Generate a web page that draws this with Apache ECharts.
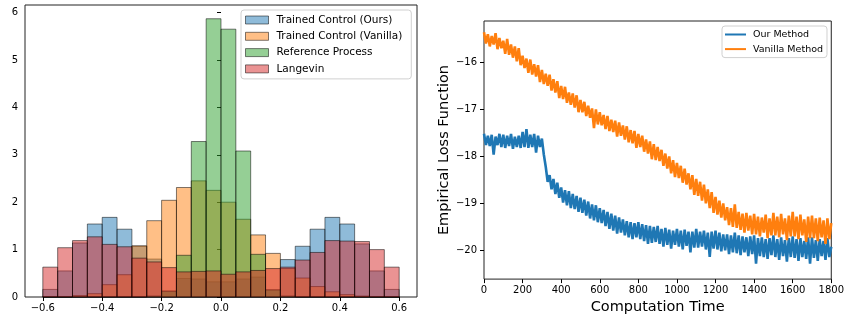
<!DOCTYPE html>
<html>
<head>
<meta charset="utf-8">
<script src="https://cdn.jsdelivr.net/npm/echarts@6/dist/echarts.min.js"></script>
<style>
  html, body { margin: 0; padding: 0; background: #fff; }
  #main { width: 847px; height: 320px; }
</style>
</head>
<body>
<div id="main"></div>
<script>
/*--------------------- histogram data ----------------------------*/
var binEdges = [-0.6, -0.55, -0.5, -0.45, -0.4, -0.35, -0.3, -0.25, -0.2, -0.15, -0.1, -0.05,
    0, 0.05, 0.1, 0.15, 0.2, 0.25, 0.3, 0.35, 0.4, 0.45, 0.5, 0.55, 0.6];
var oursHist = [0.16, 0.55, 1.14, 1.54, 1.68, 1.43, 1.07, 0.8, 0.13, 0.39, 0.38, 0.32,
    0.32, 0.38, 0.42, 0.15, 0.79, 1.07, 1.43, 1.68, 1.54, 1.12, 0.55, 0.16];
var vanillaHist = [0, 0, 0.03, 0.07, 0.26, 0.47, 1.08, 1.61, 2.04, 2.31, 2.45, 2.25,
    2.0, 1.64, 1.31, 0.92, 0.6, 0.4, 0.22, 0.11, 0.05, 0.02, 0, 0];
var referenceHist = [0, 0, 0, 0, 0, 0, 0, 0.02, 0.12, 0.88, 3.28, 5.87,
    5.65, 3.08, 0.9, 0.15, 0.02, 0, 0, 0, 0, 0, 0, 0];
var langevinHist = [0.63, 1.04, 1.19, 1.27, 1.11, 1.06, 0.82, 0.74, 0.62, 0.53, 0.54, 0.55,
    0.48, 0.53, 0.56, 0.6, 0.63, 0.78, 0.94, 1.19, 1.18, 1.17, 1.0, 0.63];
var histNames = ['Trained Control (Ours)', 'Trained Control (Vanilla)', 'Reference Process', 'Langevin'];
var histTicks = [-0.6, -0.4, -0.2, 0, 0.2, 0.4, 0.6];
var densityTicks = [0, 1, 2, 3, 4, 5, 6];

/*--------------------- loss curves (one reading every 10 time units) ----------------------------*/
var timeStep = 10;
var ourLoss = [
    -17.52, -17.76, -17.56, -17.78, -17.54, -17.96, -17.58, -17.76, -17.52, -17.80,
    -17.54, -17.82, -17.56, -17.78, -17.52, -17.84, -17.58, -17.80, -17.56, -17.82,
    -17.48, -17.80, -17.42, -17.82, -17.54, -17.80, -17.52, -17.92, -17.56, -17.80,
    -17.62, -17.96, -18.22, -18.54, -18.40, -18.70, -18.48, -18.80, -18.56, -18.88,
    -18.66, -18.98, -18.72, -19.04, -18.74, -19.10, -18.80, -19.12, -18.84, -19.18,
    -18.88, -19.20, -18.92, -19.26, -18.96, -19.32, -19.02, -19.36, -19.04, -19.40,
    -19.10, -19.42, -19.14, -19.48, -19.18, -19.54, -19.22, -19.58, -19.26, -19.64,
    -19.30, -19.62, -19.34, -19.68, -19.38, -19.72, -19.40, -19.76, -19.42, -19.72,
    -19.40, -19.76, -19.44, -19.80, -19.46, -19.86, -19.48, -19.84, -19.50, -19.82,
    -19.48, -19.86, -19.54, -19.92, -19.52, -19.88, -19.56, -19.96, -19.58, -19.88,
    -19.54, -19.92, -19.58, -19.98, -19.56, -19.90, -19.60, -20.04, -19.60, -19.94,
    -19.54, -19.94, -19.60, -19.92, -19.58, -19.98, -19.62, -20.14, -19.60, -19.96,
    -19.58, -19.98, -19.62, -20.02, -19.66, -20.00, -19.66, -20.08, -19.68, -20.04,
    -19.62, -20.06, -19.68, -20.10, -19.70, -20.04, -19.72, -20.12, -19.70, -20.08,
    -19.68, -20.28, -19.74, -20.12, -19.72, -20.14, -19.76, -20.18, -19.74, -20.10,
    -19.68, -20.14, -19.76, -20.20, -19.72, -20.12, -19.78, -20.24, -19.74, -20.14,
    -19.70, -20.16, -19.76, -20.22, -19.74, -20.14, -19.80, -20.18, -19.72, -20.28,
    -19.72, -20.16, -19.78, -20.22, -19.76, -20.12, -19.80, -20.20, -19.74, -20.14, -19.92
];
var vanillaLoss = [
    -15.36, -15.60, -15.40, -15.66, -15.44, -15.62, -15.38, -15.72, -15.48, -15.70,
    -15.54, -15.82, -15.50, -15.84, -15.62, -15.90, -15.66, -15.98, -15.70, -16.06,
    -15.86, -16.12, -15.92, -16.22, -15.94, -16.26, -16.04, -16.30, -16.06, -16.42,
    -16.16, -16.46, -16.24, -16.50, -16.26, -16.60, -16.36, -16.64, -16.40, -16.76,
    -16.50, -16.78, -16.52, -16.86, -16.64, -16.90, -16.66, -16.96, -16.70, -17.06,
    -16.80, -17.06, -16.84, -17.14, -16.92, -17.18, -16.98, -17.40, -17.00, -17.32,
    -17.06, -17.34, -17.12, -17.42, -17.14, -17.46, -17.22, -17.48, -17.24, -17.58,
    -17.28, -17.56, -17.34, -17.64, -17.36, -17.70, -17.44, -17.72, -17.46, -17.82,
    -17.52, -17.80, -17.56, -17.90, -17.64, -17.94, -17.68, -18.06, -17.74, -18.08,
    -17.80, -18.10, -17.86, -18.20, -17.94, -18.26, -18.00, -18.36, -18.08, -18.44,
    -18.14, -18.46, -18.20, -18.56, -18.26, -18.60, -18.36, -18.70, -18.40, -18.82,
    -18.48, -18.84, -18.54, -18.94, -18.60, -19.00, -18.70, -19.10, -18.76, -19.20,
    -18.86, -19.24, -18.94, -19.30, -19.00, -19.36, -19.08, -19.46, -19.10, -19.50,
    -19.02, -19.52, -19.18, -19.56, -19.22, -19.62, -19.20, -19.58, -19.26, -19.66,
    -19.22, -19.66, -19.28, -19.70, -19.30, -19.62, -19.24, -19.74, -19.32, -19.68,
    -19.20, -19.68, -19.28, -19.72, -19.22, -19.66, -19.32, -19.78, -19.26, -19.70,
    -19.18, -19.70, -19.28, -19.76, -19.24, -19.68, -19.34, -19.82, -19.28, -19.74,
    -19.26, -19.74, -19.32, -19.80, -19.30, -19.72, -19.36, -19.86, -19.32, -19.76, -19.42
];
var lossTicks = [-20, -19, -18, -17, -16];

/*--------------------- colours ----------------------------*/
var histColors = ['rgba(31,119,180,0.5)', 'rgba(255,127,14,0.5)', 'rgba(44,160,44,0.5)', 'rgba(214,39,40,0.5)'];
var edgeColor = 'rgba(0,0,0,0.5)';
var FONT = 'DejaVu Sans';

function minus(v) {
    return String(v).replace('-', '\u2212');
}

function histSeries(name, values, color) {
    var data = values.map(function (v, i) {
        return [binEdges[i], binEdges[i + 1], v];
    });
    return {
        name: name,
        type: 'custom',
        xAxisIndex: 0,
        yAxisIndex: 0,
        itemStyle: { color: color, borderColor: edgeColor, borderWidth: 1 },
        encode: { x: [0, 1], y: 2 },
        renderItem: function (params, api) {
            var p0 = api.coord([api.value(0), 0]);
            var p1 = api.coord([api.value(1), api.value(2)]);
            return {
                type: 'rect',
                shape: { x: p0[0], y: p1[1], width: p1[0] - p0[0], height: p0[1] - p1[1] },
                style: { fill: color, stroke: edgeColor, lineWidth: 1 }
            };
        },
        data: data
    };
}

function lineData(values) {
    return values.map(function (v, i) { return [i * timeStep, v]; });
}

var labelStyle = { color: '#000', fontFamily: FONT, fontSize: 10 };
var tickStyle = { show: true, inside: false, length: 4, lineStyle: { color: '#000', width: 1 } };

var chart = echarts.init(document.getElementById('main'));
var option = {
    animation: false,
    backgroundColor: '#fff',
    grid: [
        { left: 25, right: 430, top: 5, bottom: 23, show: true, borderColor: '#222', borderWidth: 1, backgroundColor: 'transparent' },
        { left: 484, right: 12, top: 21, bottom: 39, show: true, borderColor: '#222', borderWidth: 1, backgroundColor: 'transparent' }
    ],
    xAxis: [{
        type: 'value', gridIndex: 0, min: -0.66, max: 0.66,
        axisLine: { show: false },
        axisTick: Object.assign({ customValues: histTicks }, tickStyle),
        axisLabel: Object.assign({
            customValues: histTicks, margin: 6,
            formatter: function (v) { return minus(v.toFixed(1)); }
        }, labelStyle),
        splitLine: { show: false }
    }, {
        type: 'value', gridIndex: 1, min: 0, max: 1800, interval: 200,
        axisLine: { show: false },
        axisTick: tickStyle,
        axisLabel: Object.assign({ margin: 6, formatter: function (v) { return String(v); } }, labelStyle),
        splitLine: { show: false },
        name: 'Computation Time', nameLocation: 'middle', nameGap: 18,
        nameTextStyle: { color: '#000', fontFamily: FONT, fontSize: 14.5 }
    }],
    yAxis: [{
        type: 'value', gridIndex: 0, min: 0, max: 6.16,
        axisLine: { show: false },
        axisTick: Object.assign({ customValues: densityTicks }, tickStyle),
        axisLabel: Object.assign({ customValues: densityTicks, margin: 7 }, labelStyle),
        splitLine: { show: false }
    }, {
        type: 'value', gridIndex: 1, min: -20.61, max: -15.12,
        axisLine: { show: false },
        axisTick: Object.assign({ customValues: lossTicks }, tickStyle),
        axisLabel: Object.assign({ customValues: lossTicks, margin: 7, formatter: function (v) { return minus(v); } }, labelStyle),
        splitLine: { show: false },
        name: 'Empirical Loss Function', nameLocation: 'middle', nameGap: 32,
        nameTextStyle: { color: '#000', fontFamily: FONT, fontSize: 14.5 }
    }],
    legend: [{
        orient: 'vertical', left: 241, top: 10,
        padding: [4, 9, 4, 4], itemGap: 4.3,
        itemWidth: 23, itemHeight: 8, icon: 'rect',
        backgroundColor: 'rgba(255,255,255,0.8)', borderColor: '#d0d0d0', borderWidth: 1, borderRadius: 3,
        itemStyle: { borderColor: edgeColor, borderWidth: 1 },
        textStyle: { color: '#000', fontFamily: FONT, fontSize: 10.5, lineHeight: 12, padding: [0, 0, 0, 3] },
        data: histNames.map(function (n, i) { return { name: n, itemStyle: { color: histColors[i] } }; })
    }, {
        orient: 'vertical', left: 722, top: 26,
        padding: [3, 4, 3, 3], itemGap: 3.6,
        itemWidth: 21, itemHeight: 2, icon: 'rect',
        backgroundColor: 'rgba(255,255,255,0.8)', borderColor: '#d0d0d0', borderWidth: 1, borderRadius: 3,
        textStyle: { color: '#000', fontFamily: FONT, fontSize: 9.5, lineHeight: 11, padding: [0, 0, 0, 2] },
        data: ['Our Method', 'Vanilla Method']
    }],
    series: [
        histSeries(histNames[0], oursHist, histColors[0]),
        histSeries(histNames[1], vanillaHist, histColors[1]),
        histSeries(histNames[2], referenceHist, histColors[2]),
        histSeries(histNames[3], langevinHist, histColors[3]),
        {
            name: 'Our Method', type: 'line', xAxisIndex: 1, yAxisIndex: 1,
            symbol: 'none', sampling: null, color: '#1f77b4',
            lineStyle: { width: 2.6, color: '#1f77b4', join: 'bevel' },
            data: lineData(ourLoss)
        },
        {
            name: 'Vanilla Method', type: 'line', xAxisIndex: 1, yAxisIndex: 1,
            symbol: 'none', sampling: null, color: '#ff7f0e',
            lineStyle: { width: 2.6, color: '#ff7f0e', join: 'bevel' },
            data: lineData(vanillaLoss)
        }
    ]
};
chart.setOption(option);
</script>
</body>
</html>
